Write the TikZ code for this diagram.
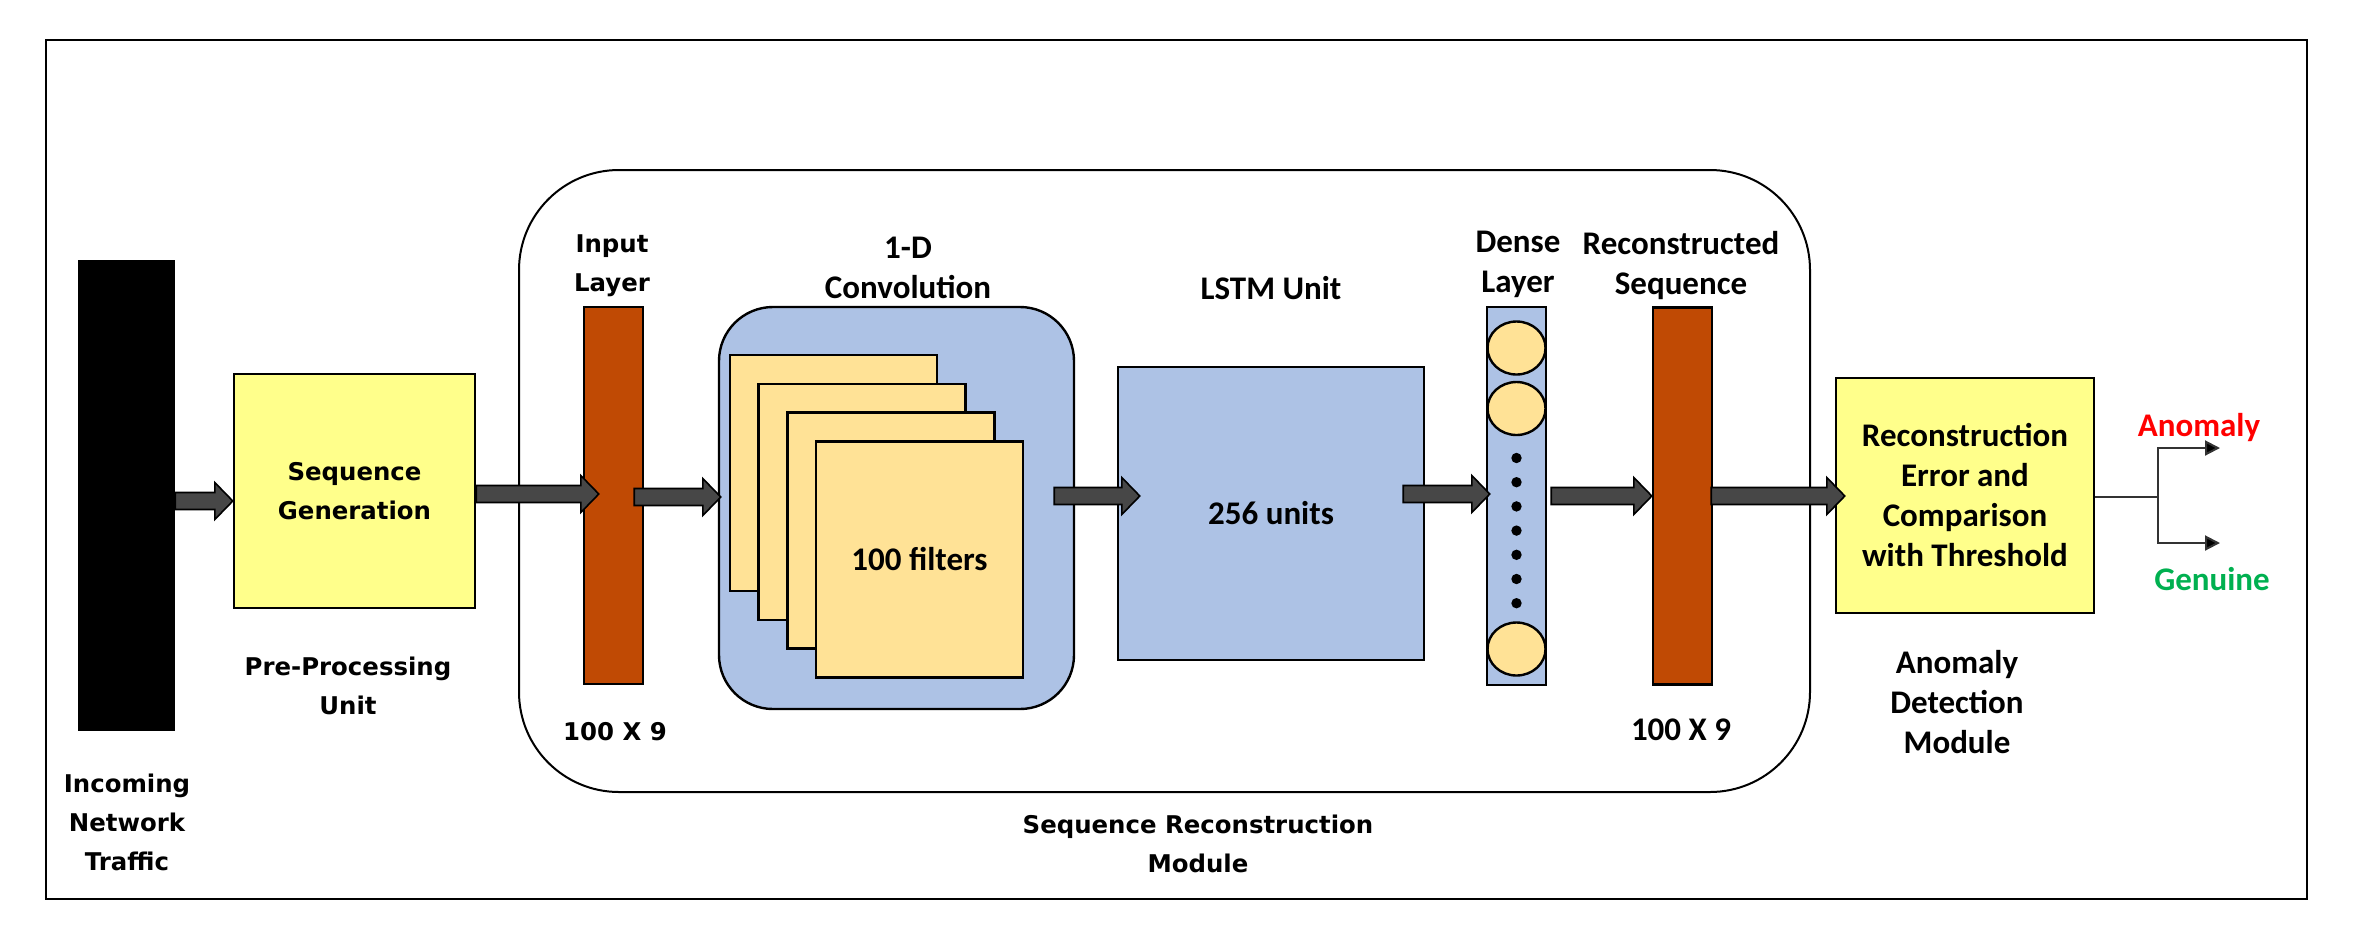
\documentclass[tikz,border=0pt]{standalone}
\usepackage{fontspec}
\setmainfont{Carlito}
\newfontfamily\verdfont{DejaVu Sans}
\usetikzlibrary{calc,shapes.geometric,arrows.meta}

\definecolor{arrowgray}{HTML}{474747}
\definecolor{layerbrown}{HTML}{C04A04}
\definecolor{paleblue}{HTML}{ADC2E5}
\definecolor{gold}{HTML}{FFE296}
\definecolor{paleyellow}{HTML}{FFFF8B}
\definecolor{genuinegreen}{HTML}{00B050}

% fat grey arrow between two points (taken horizontally from the first one)
\newcommand{\blockarrow}[2]{%
  \path[blockarr] let \p1=(#1), \p2=(#2) in
    (\x1,\y1+4.25pt) -- (\x2-9pt,\y1+4.25pt) -- (\x2-9pt,\y1+9.25pt)
    -- (\x2,\y1) -- (\x2-9pt,\y1-9.25pt) -- (\x2-9pt,\y1-4.25pt)
    -- (\x1,\y1-4.25pt) -- cycle;}

\begin{document}
\begin{tikzpicture}[x=0.5pt,y=-0.5pt,
   lbl/.style={font=\bfseries\fontsize{16.5}{20}\selectfont,align=center,inner sep=0pt},
   vlbl/.style={font=\verdfont\bfseries\fontsize{12.2}{19.5}\selectfont,align=center,inner sep=0pt},
   box/.style={draw=black,line width=1.2pt,inner sep=0pt},
   bar/.style={box,fill=layerbrown,minimum width=29.5pt,minimum height=188.5pt},
   sheet/.style={box,fill=gold,minimum width=103.5pt,minimum height=118pt},
   neuron/.style={box,ellipse,fill=gold,minimum width=29pt,minimum height=26.5pt},
   blockarr/.style={fill=arrowgray,draw=black,line width=0.8pt},
   outline/.style={draw=black!80,line width=1pt},
   outtip/.style={-{Triangle[length=7.5pt,width=7.5pt,fill=black]}}]
\useasboundingbox (0,0) rectangle (2362,944);
\draw[line width=1pt] (46,40) rectangle (2307,899);
\draw[line width=1pt,rounded corners=50pt] (519,170) rectangle (1810,792);

% pre-processing
\node[box,fill=black,minimum width=47.5pt,minimum height=234.5pt] (traffic) at (126.5,495.5) {};
\node[vlbl] (trafficlbl) at (127,822) {Incoming\\Network\\Traffic};
\node[box,fill=paleyellow,minimum width=120.5pt,minimum height=117pt,vlbl] (seqgen) at (354.5,491) {Sequence\\Generation};
\node[vlbl] (prelbl) at (348,686) {Pre-Processing\\Unit};

% sequence reconstruction
\node[bar] (inlayer) at (613.5,495.5) {};
\node[vlbl] (inlbl) at (612,266) {Input\\Layer};
\node[vlbl] (insize) at (615,732) {100 X 9};

\node[box,fill=paleblue,rounded corners=27pt,minimum width=177.5pt,minimum height=201pt] (conv) at (896.5,508) {};
\node[lbl] (convlbl) at (908,268) {1-D\\Convolution};
\foreach \k in {0,1,2}
  \node[sheet] (sheet\k) at (833.5+28.67*\k,473+28.83*\k) {};
\node[sheet,lbl] (sheet3) at (919.5,559.5) {100 filters};

\node[box,fill=paleblue,lbl,minimum width=153pt,minimum height=146.5pt] (lstm) at (1271,513.5) {256 units};
\node[lbl] (lstmlbl) at (1271,288) {LSTM Unit};

\node[box,fill=paleblue,minimum width=29.5pt,minimum height=189pt] (dense) at (1516.5,496) {};
\node[lbl] (denselbl) at (1518,264) {Dense\\Layer};
\node[neuron] (n1) at (1516.5,348) {};
\node[neuron] (n2) at (1516.5,408.5) {};
\node[neuron] (n3) at (1516.5,649) {};
\foreach \k in {0,...,6}
  \fill (1516.5,458+24.2*\k) circle (2.6pt);

\node[bar] (recon) at (1682.5,496) {};
\node[lbl] (reconlbl) at (1681,266) {Reconstructed\\Sequence};
\node[lbl] (reconsize) at (1681,730) {100 X 9};
\node[vlbl] (modlbl) at (1198,844) {Sequence Reconstruction\\Module};

% anomaly detection
\node[box,fill=paleyellow,lbl,minimum width=129pt,minimum height=117.5pt] (anom) at (1965,495.5)
  {Reconstruction\\Error and\\Comparison\\with Threshold};
\node[lbl] (anomlbl) at (1957,702) {Anomaly\\Detection\\Module};
\coordinate (split) at (2158,497);
\coordinate (anomout) at (2220,448);
\coordinate (genout) at (2220,543);
\draw[outline] (anom.east |- split) -- (split);
\draw[outline,outtip] (split) |- (anomout);
\draw[outline,outtip] (split) |- (genout);
\node[lbl,text=red] (anomtxt) at (2199,428) {Anomaly};
\node[lbl,text=genuinegreen] (gentxt) at (2212,579) {Genuine};

% block arrows
\blockarrow{[yshift=-2.75pt]traffic.east}{seqgen.west}
\blockarrow{[yshift=-1.5pt]seqgen.east}{[xshift=8pt]inlayer.west}
\blockarrow{[xshift=-5pt,yshift=-0.75pt]inlayer.east}{[xshift=1.5pt]conv.west}
\blockarrow{[xshift=-10.5pt,yshift=6pt]conv.east}{[xshift=11.5pt]lstm.west}
\blockarrow{[xshift=-11pt,yshift=9.75pt]lstm.east}{[xshift=2pt]dense.west}
\blockarrow{[xshift=2pt]dense.east}{recon.west}
\blockarrow{[xshift=-1pt]recon.east}{[xshift=5pt]anom.west}
\end{tikzpicture}
\end{document}
